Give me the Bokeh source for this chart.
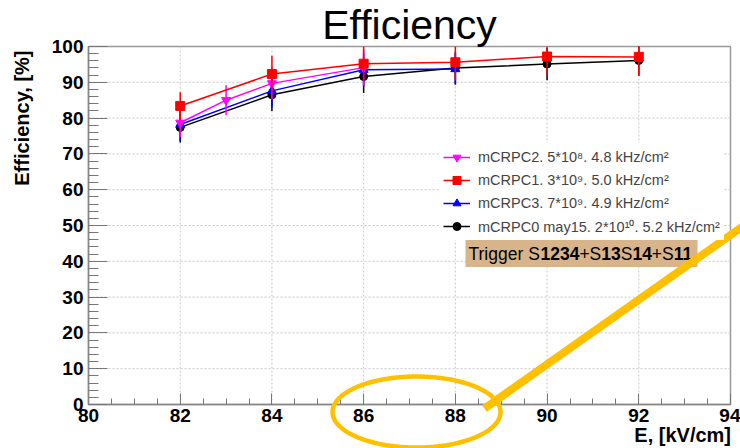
import numpy as np
from bokeh.plotting import figure
from bokeh.models import (Range1d, SingleIntervalTicker, Label, Legend, LegendItem,
                          BoxAnnotation, PolyAnnotation, Arrow, LinearAxis)
from bokeh.embed import file_html
from bokeh.resources import INLINE

# ---------------- data ----------------
x_c2 = [82, 83, 84, 86]
y_c2 = [78.7, 85.0, 89.7, 94.1]
e_c2 = [4.0, 4.2, 4.5, 5.0]

x_c1 = [82, 84, 86, 88, 90, 92]
y_c1 = [83.4, 92.3, 95.2, 95.6, 97.2, 97.1]
e_c1 = [3.8, 5.1, 5.0, 5.0, 5.0, 5.3]

x_c3 = [82, 84, 86, 88]
y_c3 = [78.2, 87.6, 93.5, 93.7]
e_c3 = [4.5, 4.5, 4.6, 4.4]

x_c0 = [82, 84, 86, 88, 90, 92]
y_c0 = [77.4, 86.5, 91.6, 94.0, 95.1, 96.1]
e_c0 = [4.2, 4.5, 4.6, 4.5, 4.5, 4.3]

labels = ["mCRPC2. 5*10\u2078. 4.8 kHz/cm\u00b2",
          "mCRPC1. 3*10\u2079. 5.0 kHz/cm\u00b2",
          "mCRPC3. 7*10\u2079. 4.9 kHz/cm\u00b2",
          "mCRPC0 may15. 2*10\u00b9\u2070. 5.2 kHz/cm\u00b2"]

x_grid = [82, 84, 86, 88, 90, 92]
y_grid = [10, 20, 30, 40, 50, 60, 70, 80, 90]

title_text = "Efficiency"
xlabel_text = "E, [kV/cm]"
ylabel_text = "Efficiency, [%]"
trigger_parts = [("Trigger S", False), ("1234", True), ("+S", False), ("13", True),
                 ("S", False), ("14", True), ("+S", False), ("11", True)]

FONT = "Liberation Sans"
W, H = 740, 448
# pixel box of the data area (80..94, 0..100)
PL, PR, PT, PB = 88, 730, 46, 404
X0, X1, Y0, Y1 = 80, 94, 0, 100
ux = (PR - PL) / (X1 - X0)
uy = (PB - PT) / (Y1 - Y0)
xs_, xe_ = X0 - PL / ux, X1 + (W - PR) / ux
ys_, ye_ = Y0 - (H - PB) / uy, Y1 + PT / uy

def dx(px):
    return xs_ + px / ux
def dy(py):
    return ys_ + (H - py) / uy

p = figure(width=W, height=H, output_backend="svg", toolbar_location=None, title=None,
           x_range=Range1d(xs_, xe_), y_range=Range1d(ys_, ye_),
           x_axis_location=None, y_axis_location=None,
           min_border=0, min_border_left=0, min_border_right=0,
           min_border_top=0, min_border_bottom=0)
p.background_fill_color = "white"
p.border_fill_color = "white"
p.outline_line_color = None
p.xgrid.visible = False
p.ygrid.visible = False

# grid (dotted, only inside the data box)
p.segment(x0=x_grid, y0=Y0, x1=x_grid, y1=Y1, line_color="#c8c8c8", line_dash="2 2", line_width=1)
p.segment(x0=X0, y0=y_grid, x1=X1, y1=y_grid, line_color="#c8c8c8", line_dash="2 2", line_width=1)

# frame box
p.add_layout(BoxAnnotation(left=X0, right=X1, bottom=Y0, top=Y1, fill_alpha=0,
                           line_color="#999999", line_width=1.5, line_alpha=1, level="underlay"))

# axes at fixed locations
xax = LinearAxis(fixed_location=Y0, bounds=(X0, X1),
                 ticker=SingleIntervalTicker(interval=2, num_minor_ticks=4))
yax = LinearAxis(fixed_location=X0, bounds=(Y0, Y1),
                 ticker=SingleIntervalTicker(interval=10, num_minor_ticks=5))
for ax in (xax, yax):
    ax.axis_line_color = "#888888"
    ax.axis_line_width = 1.5
    ax.major_tick_line_color = "#777777"
    ax.minor_tick_line_color = "#777777"
    ax.major_tick_out = 0
    ax.minor_tick_out = 0
    ax.major_label_text_font = FONT
    ax.major_label_text_font_style = "bold"
    ax.major_label_text_font_size = "19px"
    ax.major_label_text_color = "black"
yax.major_tick_in = 19
yax.minor_tick_in = 10
xax.major_tick_in = 11
xax.minor_tick_in = 6
yax.major_label_standoff = 5
xax.major_label_standoff = 4
p.add_layout(xax, "below")
p.add_layout(yax, "left")

# series
series = [
    (x_c0, y_c0, e_c0, "black", "circle", 8),
    (x_c3, y_c3, e_c3, "#0000ff", "triangle", 9),
    (x_c2, y_c2, e_c2, "#ff00ff", "inverted_triangle", 9),
    (x_c1, y_c1, e_c1, "#ff0000", "square", 9),
]
rends = {}
for xs, ys, es, col, mk, sz in series:
    lo = [max(y - e, Y0) for y, e in zip(ys, es)]
    hi = [min(y + e, Y1) for y, e in zip(ys, es)]
    p.segment(x0=xs, y0=lo, x1=xs, y1=hi, line_color=col, line_width=1.5)
    ln = p.line(xs, ys, line_color=col, line_width=1.5)
    sc = p.scatter(xs, ys, marker=mk, size=sz, fill_color=col, line_color=col)
    rends[col] = [ln, sc]

legend = Legend(items=[
    LegendItem(label=labels[0], renderers=rends["#ff00ff"]),
    LegendItem(label=labels[1], renderers=rends["#ff0000"]),
    LegendItem(label=labels[2], renderers=rends["#0000ff"]),
    LegendItem(label=labels[3], renderers=rends["black"]),
], location=(439, 208))
legend.margin = 0
legend.padding = 4
legend.spacing = 3
legend.label_height = 20
legend.glyph_height = 20
legend.glyph_width = 27
legend.label_standoff = 8
legend.label_text_font = FONT
legend.label_text_font_size = "14.5px"
legend.border_line_alpha = 0
legend.background_fill_color = "white"
legend.background_fill_alpha = 1
p.add_layout(legend, "center")

# trigger box
p.add_layout(BoxAnnotation(left=dx(465), right=dx(697), top=dy(237), bottom=dy(266.5),
                           fill_color="#d8b48a", fill_alpha=1, line_alpha=0, level="annotation"))
fs = 17.5
widths = {"Trigger S": 4.112, "1234": 2.224, "+S": 1.251, "13": 1.112, "S": 0.667,
          "14": 1.112, "11": 1.112}
cx = 468.0
for txt, bold in trigger_parts:
    p.add_layout(Label(x=dx(cx), y=dy(253.2), text=txt, text_font=FONT,
                       text_font_size=f"{fs}px", text_font_style="bold" if bold else "normal",
                       text_color="black", text_align="left", text_baseline="middle"))
    cx += widths[txt] * fs

# title and axis labels
p.add_layout(Label(x=dx(409), y=dy(24.1), text=title_text, text_font=FONT,
                   text_font_size="41px", text_align="center", text_baseline="middle",
                   text_color="black"))
p.add_layout(Label(x=dx(730.5), y=dy(434.8), text=xlabel_text, text_font=FONT,
                   text_font_size="20px", text_font_style="bold", text_align="right",
                   text_baseline="middle", text_color="black"))
p.add_layout(Label(x=dx(21.4), y=dy(50), text=ylabel_text, text_font=FONT,
                   text_font_size="20px", text_font_style="bold", text_align="right",
                   text_baseline="middle", angle=np.pi / 2, text_color="black"))

# orange decorations
ORANGE = "#ffc000"
t = np.linspace(0, 2 * np.pi, 121)
ex = [dx(416 + 84 * np.cos(a)) for a in t]
ey = [dy(411.5 + 35.5 * np.sin(a)) for a in t]
p.add_layout(PolyAnnotation(xs=ex, ys=ey, fill_alpha=0, line_color=ORANGE, line_alpha=1,
                            line_width=4.5))
p.add_layout(Arrow(end=None, x_start=dx(484), y_start=dy(408), x_end=dx(752), y_end=dy(219),
                   line_color=ORANGE, line_width=8))

open("out.html", "w").write(file_html(p, INLINE))
